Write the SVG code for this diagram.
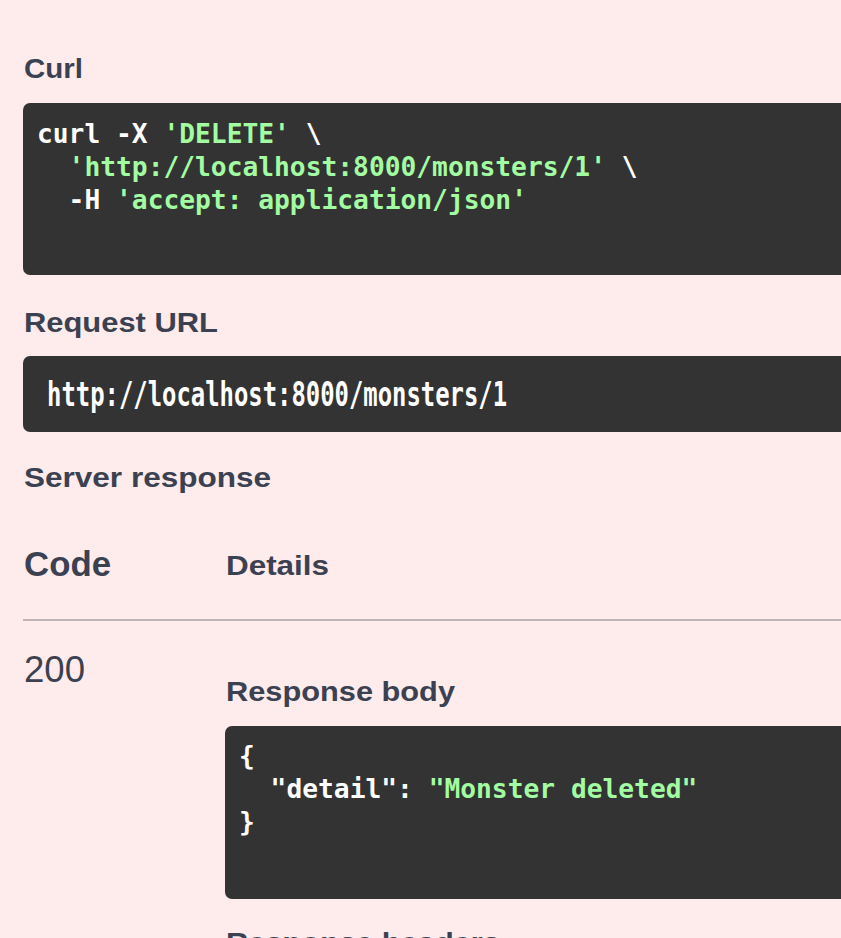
<svg xmlns="http://www.w3.org/2000/svg" width="841" height="938" viewBox="0 0 841 938">
<style>
.h{font-family:"Liberation Sans",Arial,sans-serif;font-weight:bold;font-size:28px;fill:#3b4151}
.box{fill:#333333}
.code{font-family:"DejaVu Sans Mono","Liberation Mono",monospace;font-weight:bold;font-size:26.25px;fill:#ffffff}
.s{fill:#a2fca2}
.url{font-family:"DejaVu Sans Mono","Liberation Mono",monospace;font-weight:bold;font-size:33px;fill:#ffffff}
</style>
<rect x="0" y="0" width="841" height="938" fill="#feecec"/>
<g id="curl">
<text class="h" x="24" y="78" textLength="59" lengthAdjust="spacingAndGlyphs">Curl</text>
<rect class="box" x="23" y="103" width="830" height="172" rx="7"/>
<text class="code" x="37" y="143" xml:space="preserve">curl -X <tspan class="s">'DELETE'</tspan> \</text>
<text class="code" x="37" y="176" xml:space="preserve">  <tspan class="s">'http://localhost:8000/monsters/1'</tspan> \</text>
<text class="code" x="37" y="209" xml:space="preserve">  -H <tspan class="s">'accept: application/json'</tspan></text>
</g>
<g id="request-url">
<text class="h" x="24" y="332" textLength="194" lengthAdjust="spacingAndGlyphs">Request URL</text>
<rect class="box" x="23" y="356" width="830" height="76" rx="7"/>
<text class="url" x="47" y="406" textLength="460" lengthAdjust="spacingAndGlyphs">http://localhost:8000/monsters/1</text>
</g>
<g id="server-response">
<text class="h" x="24" y="487" textLength="247" lengthAdjust="spacingAndGlyphs">Server response</text>
<text class="h" x="24" y="576" style="font-size:35px" textLength="87" lengthAdjust="spacingAndGlyphs">Code</text>
<text class="h" x="226" y="575" textLength="103" lengthAdjust="spacingAndGlyphs">Details</text>
<rect x="23" y="619" width="830" height="2" fill="#c0b3b8"/>
</g>
<g id="response-200">
<text x="24" y="682" style="font-family:'Liberation Sans',Arial,sans-serif;font-size:36px;fill:#3b4151" textLength="61" lengthAdjust="spacingAndGlyphs">200</text>
<text class="h" x="226" y="701" textLength="229" lengthAdjust="spacingAndGlyphs">Response body</text>
<rect class="box" x="225" y="726" width="630" height="173" rx="7"/>
<text class="code" x="239" y="765" xml:space="preserve">{</text>
<text class="code" x="239" y="798" xml:space="preserve">  "detail": <tspan class="s">"Monster deleted"</tspan></text>
<text class="code" x="239" y="831" xml:space="preserve">}</text>
<text class="h" x="226" y="952" textLength="274" lengthAdjust="spacingAndGlyphs">Response headers</text>
</g>
</svg>
